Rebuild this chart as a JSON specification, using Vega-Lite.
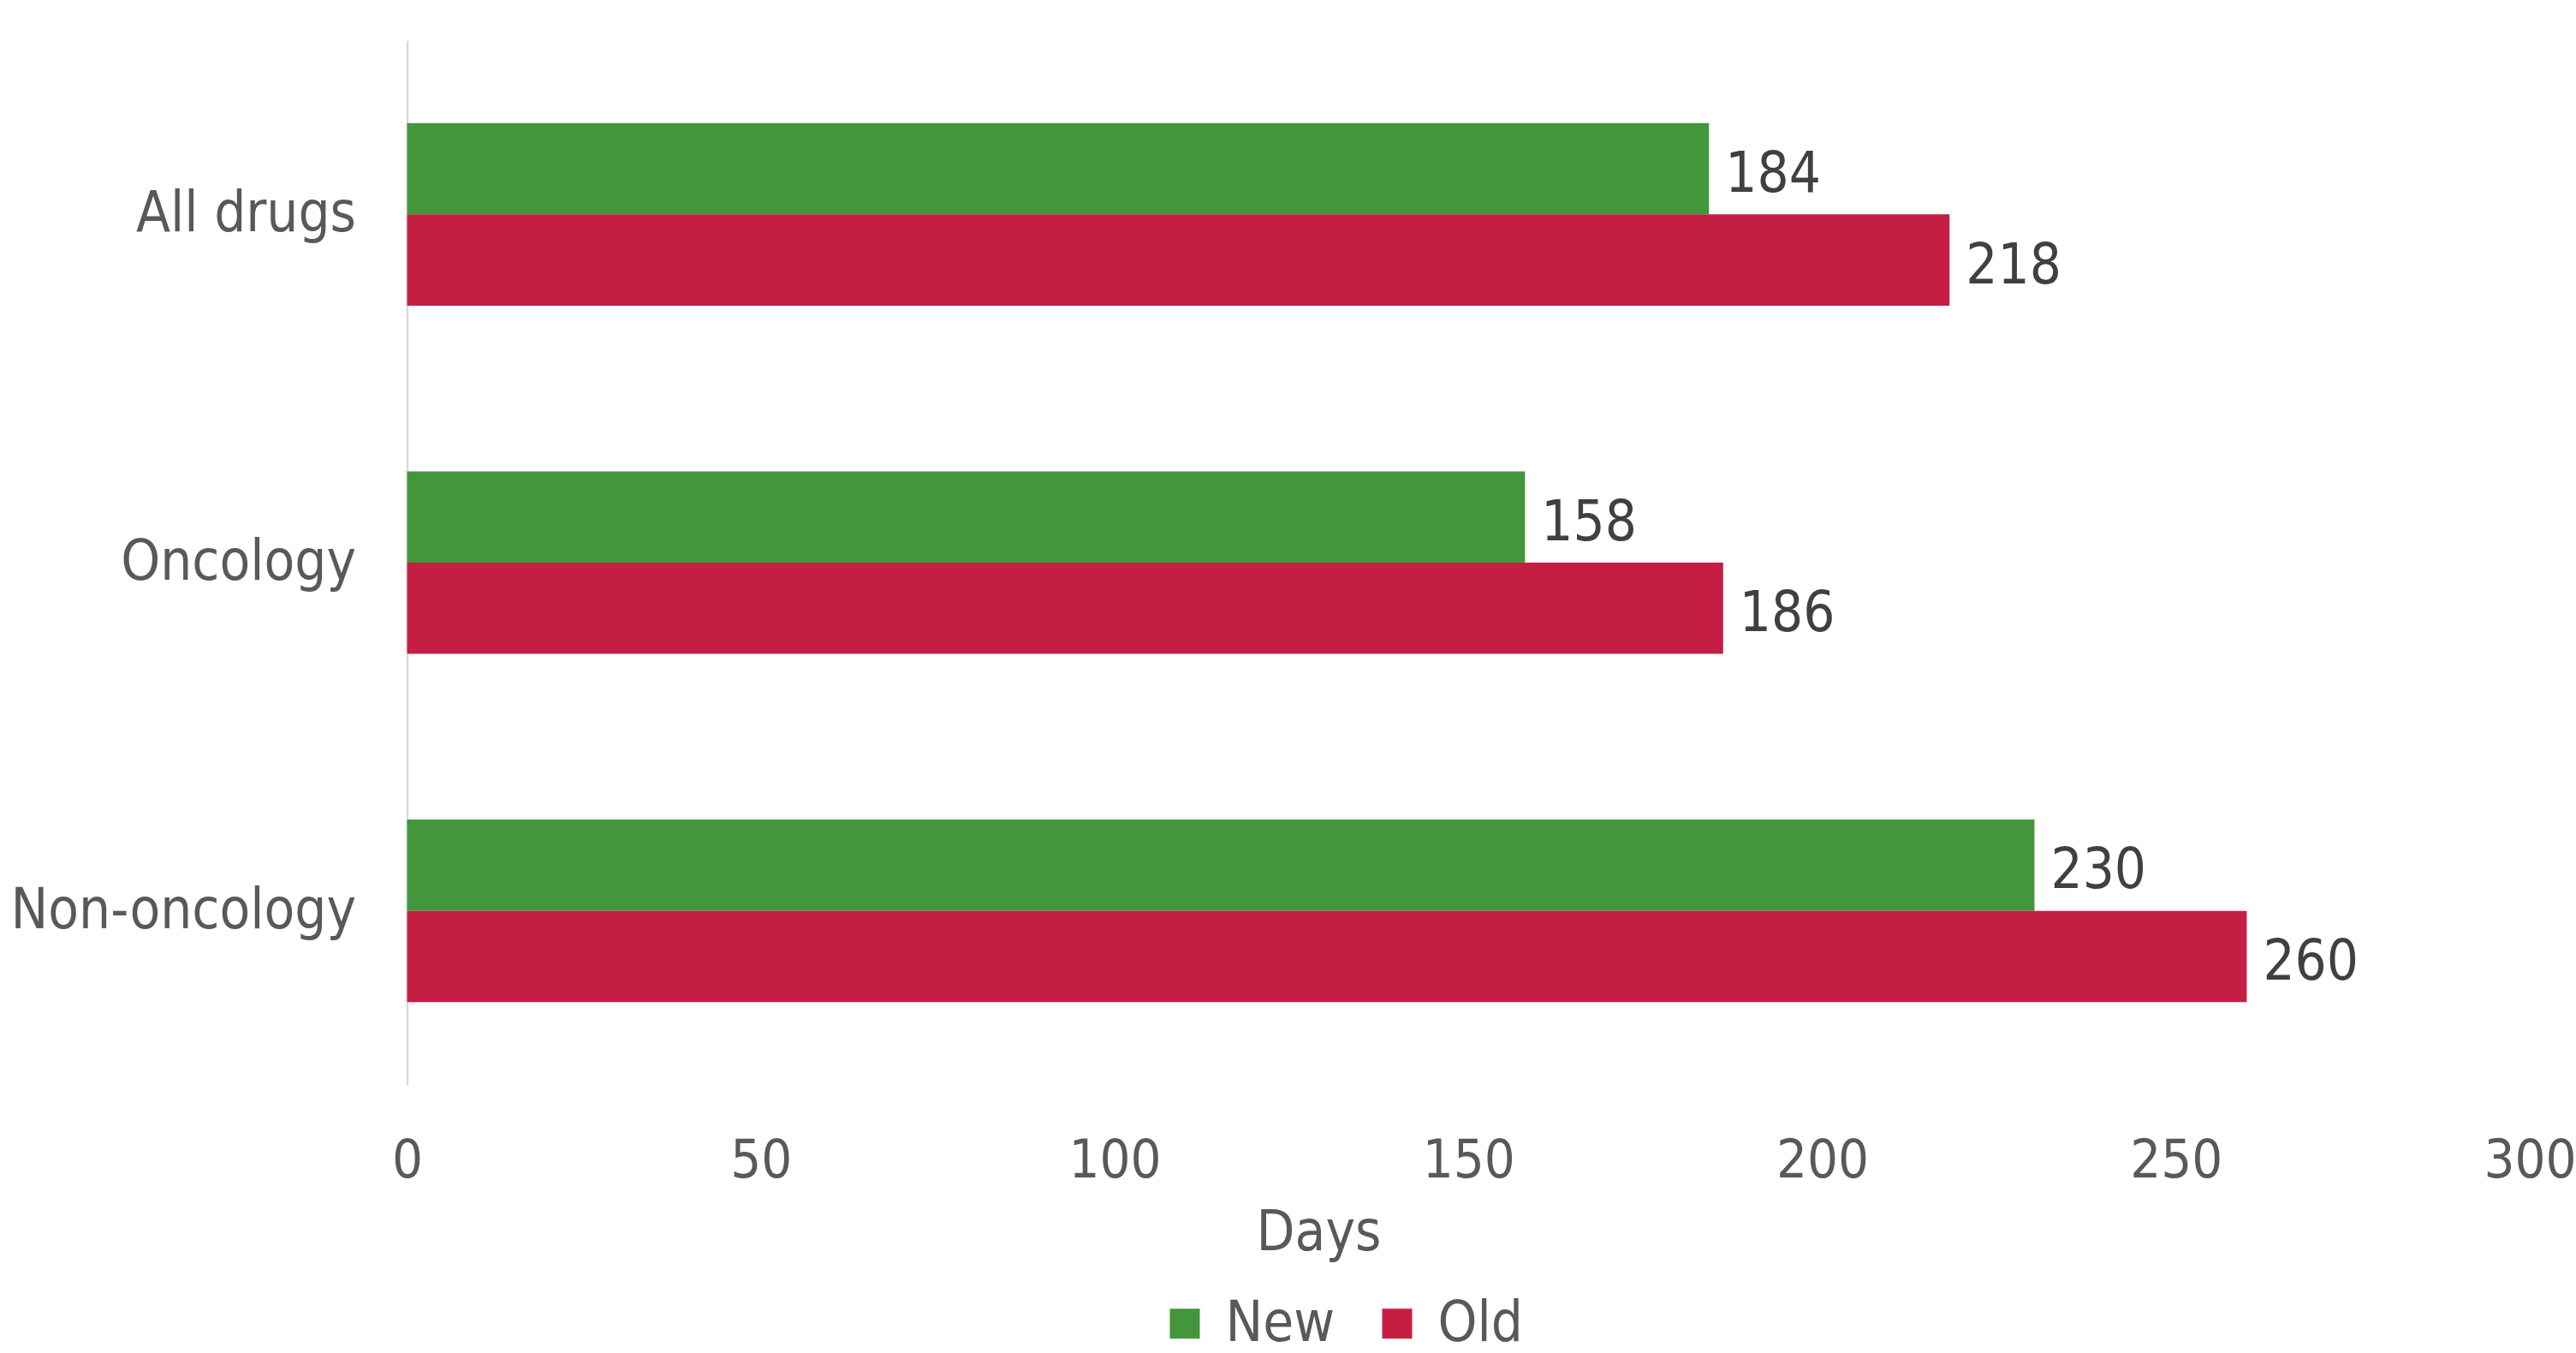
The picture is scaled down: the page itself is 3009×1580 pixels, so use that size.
{
  "$schema": "https://vega.github.io/schema/vega-lite/v6.json",
  "width": 2479.5,
  "height": 1220,
  "autosize": {"type": "none"},
  "padding": {"left": 475.5, "top": 47, "right": 54, "bottom": 313},
  "background": "white",
  "config": {
    "font": "DejaVu Sans Condensed, DejaVu Sans",
    "view": {"stroke": null}
  },
  "data": {
    "values": [
      {"category": "All drugs", "group": "New", "days": 184},
      {"category": "All drugs", "group": "Old", "days": 218},
      {"category": "Oncology", "group": "New", "days": 158},
      {"category": "Oncology", "group": "Old", "days": 186},
      {"category": "Non-oncology", "group": "New", "days": 230},
      {"category": "Non-oncology", "group": "Old", "days": 260}
    ]
  },
  "encoding": {
    "y": {
      "field": "category",
      "type": "nominal",
      "sort": ["All drugs", "Oncology", "Non-oncology"],
      "scale": {"paddingInner": 0.476, "paddingOuter": 0.238},
      "axis": {
        "title": null,
        "domain": true,
        "domainColor": "#d9d9d9",
        "domainWidth": 2.5,
        "ticks": false,
        "tickSize": 0,
        "grid": false,
        "labelPadding": 60,
        "labelLimit": 0,
        "labelFontSize": 65,
        "labelColor": "#595959",
        "labelFont": "DejaVu Sans Condensed, DejaVu Sans"
      }
    },
    "yOffset": {"field": "group", "type": "nominal", "sort": ["New", "Old"]},
    "x": {
      "field": "days",
      "type": "quantitative",
      "scale": {"domain": [0, 300], "nice": false},
      "axis": {
        "values": [0, 50, 100, 150, 200, 250, 300],
        "domain": false,
        "ticks": false,
        "tickSize": 0,
        "grid": false,
        "labelFlush": false,
        "labelOverlap": false,
        "labelBound": false,
        "labelPadding": 57,
        "labelFontSize": 63,
        "labelColor": "#595959",
        "labelFont": "DejaVu Sans Condensed, DejaVu Sans",
        "title": "Days",
        "titleFont": "DejaVu Sans Condensed, DejaVu Sans",
        "titleFontSize": 65,
        "titleFontWeight": "normal",
        "titleColor": "#595959",
        "titleX": 1064.5,
        "titleY": 192,
        "titleAlign": "center",
        "titleBaseline": "alphabetic"
      }
    }
  },
  "layer": [
    {
      "mark": {"type": "bar"},
      "encoding": {
        "color": {
          "field": "group",
          "type": "nominal",
          "scale": {"domain": ["New", "Old"], "range": ["#43963b", "#c41f43"]},
          "legend": {
            "title": null,
            "orient": "none",
            "legendX": 876,
            "legendY": 1466,
            "direction": "horizontal",
            "symbolType": "square",
            "symbolSize": 1225,
            "symbolStrokeWidth": 0,
            "labelFontSize": 65,
            "labelColor": "#595959",
            "labelFont": "DejaVu Sans Condensed, DejaVu Sans",
            "labelOffset": 15,
            "columnPadding": 40,
            "padding": 0
          }
        }
      }
    },
    {
      "mark": {
        "type": "text",
        "align": "left",
        "baseline": "middle",
        "dx": 19,
        "dy": 7,
        "fontSize": 65,
        "color": "#404040",
        "font": "DejaVu Sans Condensed, DejaVu Sans"
      },
      "encoding": {"text": {"field": "days", "type": "quantitative"}}
    }
  ]
}
